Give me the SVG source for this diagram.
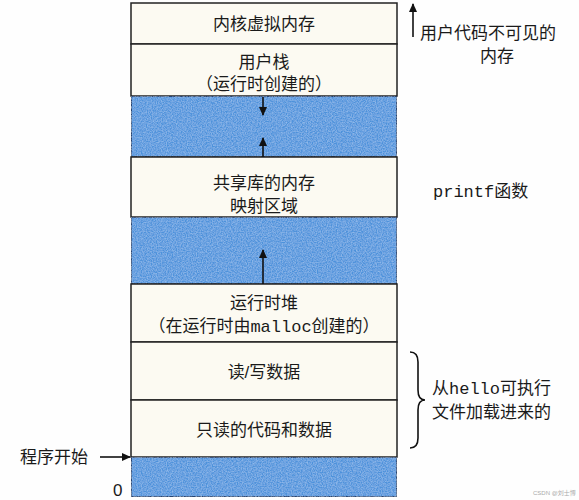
<svg xmlns="http://www.w3.org/2000/svg" width="579" height="500" viewBox="0 0 579 500">
<style>
.cell{fill:#fcfaf2;stroke:#222;stroke-width:1.5}
.blue{fill:#4e92db;stroke:#1a2a50;stroke-width:1.5}
.t{font-family:"Liberation Sans","Noto Sans CJK SC",sans-serif;font-size:17px;fill:#1a1a1a}
.c{text-anchor:middle}
.m{font-family:"Liberation Mono",monospace}
.ln{stroke:#111;stroke-width:1.6;fill:none}
</style>
<defs>
<marker id="ah" viewBox="0 0 10 10" refX="9" refY="5" markerWidth="9" markerHeight="9" markerUnits="userSpaceOnUse" orient="auto">
<path d="M0,0.5 L10,5 L0,9.5 z" fill="#111"/>
</marker>
<filter id="noise" x="0" y="0" width="100%" height="100%">
<feTurbulence type="fractalNoise" baseFrequency="0.8" numOctaves="2" seed="3" result="n"/>
<feColorMatrix in="n" type="matrix" values="0 0 0 0 0.6  0 0 0 0 0.8  0 0 0 0 1  0 0 0 0.7 -0.2" result="c"/>
<feComposite in="c" in2="SourceGraphic" operator="in" result="cc"/>
<feMerge><feMergeNode in="SourceGraphic"/><feMergeNode in="cc"/></feMerge>
</filter>
</defs>
<rect width="579" height="500" fill="#fefefe"/>

<g id="kernel"><rect class="cell" x="131" y="3" width="266" height="41"/><text class="t c" x="264" y="30">内核虚拟内存</text></g>
<g id="stack"><rect class="cell" x="131" y="44" width="266" height="52"/><text class="t c" x="264" y="68">用户栈</text><text class="t c" x="264" y="90">（运行时创建的）</text></g>
<g id="gap1"><rect class="blue" x="131" y="96" width="266" height="61" filter="url(#noise)"/></g>
<g id="shared"><rect class="cell" x="131" y="157" width="266" height="60"/><text class="t c" x="264" y="189">共享库的内存</text><text class="t c" x="264" y="212">映射区域</text></g>
<g id="gap2"><rect class="blue" x="131" y="217" width="266" height="67" filter="url(#noise)"/></g>
<g id="heap"><rect class="cell" x="131" y="284" width="266" height="58"/><text class="t c" x="264" y="309">运行时堆</text><text class="t c" x="264" y="332">（在运行时由<tspan class="m">malloc</tspan>创建的）</text></g>
<g id="rwdata"><rect class="cell" x="131" y="342" width="266" height="58"/><text class="t c" x="264" y="378">读/写数据</text></g>
<g id="rodata"><rect class="cell" x="131" y="400" width="266" height="57"/><text class="t c" x="264" y="436">只读的代码和数据</text></g>
<g id="bottom"><rect class="blue" x="131" y="457" width="266" height="40" filter="url(#noise)"/></g>

<g id="connectors">
<line class="ln" x1="263" y1="97" x2="263" y2="115" marker-end="url(#ah)"/>
<line class="ln" x1="263" y1="157" x2="263" y2="138" marker-end="url(#ah)"/>
<line class="ln" x1="263" y1="284" x2="263" y2="250" marker-end="url(#ah)"/>
<line class="ln" x1="413" y1="37" x2="413" y2="4" marker-end="url(#ah)"/>
<line class="ln" x1="100" y1="457" x2="130" y2="457" marker-end="url(#ah)"/>
<path class="ln" d="M410,352 Q418,352 418,362 L418,390 Q418,400 425,400 Q418,400 418,410 L418,438 Q418,448 410,448"/>
</g>

<g id="labels">
<text class="t" x="20" y="463">程序开始</text>
<text class="t" x="113" y="496">0</text>
<text class="t" x="420" y="39">用户代码不可见的</text>
<text class="t c" x="497" y="62">内存</text>
<text class="t" x="433" y="197"><tspan class="m">printf</tspan>函数</text>
<text class="t" x="432" y="394">从<tspan class="m">hello</tspan>可执行</text>
<text class="t" x="432" y="418">文件加载进来的</text>
<text x="533" y="495" style="font-family:'Liberation Sans','Noto Sans CJK SC',sans-serif;font-size:6px;fill:#aaa">CSDN @刘士博</text>
</g>
</svg>
